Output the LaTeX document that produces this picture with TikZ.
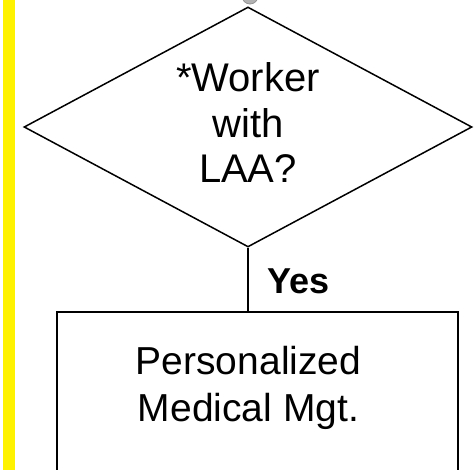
\documentclass[tikz,border=0pt]{standalone}
\usepackage{fontspec}
\setmainfont{Liberation Sans}
\usetikzlibrary{shapes.geometric}
\tikzset{
  outline/.style={draw=black, line width=1.5pt},
  boxline/.style={draw=black, line width=1.9pt},
  bigtxt/.style={font=\fontsize{40}{45.5}\selectfont, align=center, inner sep=0pt},
  boxtxt/.style={font=\fontsize{39}{47}\selectfont, align=center, inner sep=0pt},
  lbl/.style={font=\fontsize{36}{40}\selectfont\bfseries, inner sep=0pt}
}
\begin{document}
\begin{tikzpicture}[x=1pt,y=-1pt]
\useasboundingbox (0,0) rectangle (476,470);
\clip (0,0) rectangle (476,470);
\fill[white] (0,0) rectangle (476,470);
% yellow bar
\fill[yellow] (3,0) rectangle (15,470);
% grey connector circle at the top
\filldraw[fill=gray!60, draw=gray!85, line width=0.8pt] (250,-4) circle (8);
% decision
\node[diamond, outline, minimum width=448pt, minimum height=240pt, inner sep=0pt] (dec) at (248,127) {};
\node[bigtxt] (dectxt) at (248,123) {*Worker\\with\\LAA?};
% process box
\node[rectangle, boxline, minimum width=401pt, minimum height=180pt, inner sep=0pt, anchor=north west] (box) at (56,311) {};
\node[boxtxt] (boxtxt) at (248.5,388.4) {Personalized\\Medical Mgt.};
% connector
\draw[line width=1.3pt] (dec.south) -- (dec.south |- box.north) coordinate (jn);
\node[lbl, anchor=base west] (yes) at (267,293) {Yes};
\end{tikzpicture}
\end{document}
